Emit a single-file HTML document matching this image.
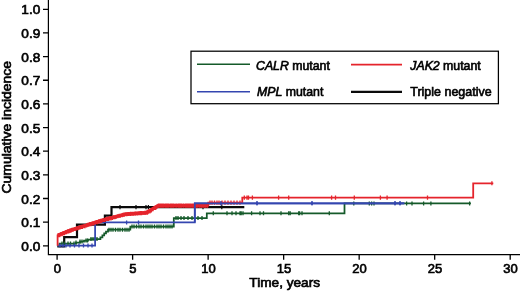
<!DOCTYPE html>
<html><head><meta charset="utf-8"><title>Cumulative incidence</title>
<style>html,body{margin:0;padding:0;background:#fff;overflow:hidden}svg{display:block;will-change:transform;transform:translateZ(0)}</style>
</head><body>
<svg width="520" height="291" viewBox="0 0 520 291">
<rect width="520" height="291" fill="#fff"/>
<path d="M48.40 0V254.60H520" stroke="#000" stroke-width="1.2" fill="none"/>
<path d="M43.00 245.80H48.40M43.00 222.15H48.40M43.00 198.50H48.40M43.00 174.85H48.40M43.00 151.20H48.40M43.00 127.55H48.40M43.00 103.90H48.40M43.00 80.25H48.40M43.00 56.60H48.40M43.00 32.95H48.40M43.00 9.30H48.40M57.10 254.60V259.80M132.62 254.60V259.80M208.13 254.60V259.80M283.65 254.60V259.80M359.17 254.60V259.80M434.68 254.60V259.80M510.20 254.60V259.80" stroke="#000" stroke-width="1.3" fill="none"/>
<text transform="translate(40.3,250.85) scale(1.050,1)" text-anchor="end" style='font-family:"Liberation Sans", Arial, Helvetica, sans-serif;font-size:13px;fill:#000;stroke:#000;stroke-width:0.65px'>0.0</text>
<text transform="translate(40.3,227.20) scale(1.050,1)" text-anchor="end" style='font-family:"Liberation Sans", Arial, Helvetica, sans-serif;font-size:13px;fill:#000;stroke:#000;stroke-width:0.65px'>0.1</text>
<text transform="translate(40.3,203.55) scale(1.050,1)" text-anchor="end" style='font-family:"Liberation Sans", Arial, Helvetica, sans-serif;font-size:13px;fill:#000;stroke:#000;stroke-width:0.65px'>0.2</text>
<text transform="translate(40.3,179.90) scale(1.050,1)" text-anchor="end" style='font-family:"Liberation Sans", Arial, Helvetica, sans-serif;font-size:13px;fill:#000;stroke:#000;stroke-width:0.65px'>0.3</text>
<text transform="translate(40.3,156.25) scale(1.050,1)" text-anchor="end" style='font-family:"Liberation Sans", Arial, Helvetica, sans-serif;font-size:13px;fill:#000;stroke:#000;stroke-width:0.65px'>0.4</text>
<text transform="translate(40.3,132.60) scale(1.050,1)" text-anchor="end" style='font-family:"Liberation Sans", Arial, Helvetica, sans-serif;font-size:13px;fill:#000;stroke:#000;stroke-width:0.65px'>0.5</text>
<text transform="translate(40.3,108.95) scale(1.050,1)" text-anchor="end" style='font-family:"Liberation Sans", Arial, Helvetica, sans-serif;font-size:13px;fill:#000;stroke:#000;stroke-width:0.65px'>0.6</text>
<text transform="translate(40.3,85.30) scale(1.050,1)" text-anchor="end" style='font-family:"Liberation Sans", Arial, Helvetica, sans-serif;font-size:13px;fill:#000;stroke:#000;stroke-width:0.65px'>0.7</text>
<text transform="translate(40.3,61.65) scale(1.050,1)" text-anchor="end" style='font-family:"Liberation Sans", Arial, Helvetica, sans-serif;font-size:13px;fill:#000;stroke:#000;stroke-width:0.65px'>0.8</text>
<text transform="translate(40.3,38.00) scale(1.050,1)" text-anchor="end" style='font-family:"Liberation Sans", Arial, Helvetica, sans-serif;font-size:13px;fill:#000;stroke:#000;stroke-width:0.65px'>0.9</text>
<text transform="translate(40.3,14.35) scale(1.050,1)" text-anchor="end" style='font-family:"Liberation Sans", Arial, Helvetica, sans-serif;font-size:13px;fill:#000;stroke:#000;stroke-width:0.65px'>1.0</text>
<text transform="translate(57.40,272.7) scale(1.0,1)" text-anchor="middle" style='font-family:"Liberation Sans", Arial, Helvetica, sans-serif;font-size:13px;fill:#000;stroke:#000;stroke-width:0.65px'>0</text>
<text transform="translate(132.92,272.7) scale(1.0,1)" text-anchor="middle" style='font-family:"Liberation Sans", Arial, Helvetica, sans-serif;font-size:13px;fill:#000;stroke:#000;stroke-width:0.65px'>5</text>
<text transform="translate(208.43,272.7) scale(1.0,1)" text-anchor="middle" style='font-family:"Liberation Sans", Arial, Helvetica, sans-serif;font-size:13px;fill:#000;stroke:#000;stroke-width:0.65px'>10</text>
<text transform="translate(283.95,272.7) scale(1.0,1)" text-anchor="middle" style='font-family:"Liberation Sans", Arial, Helvetica, sans-serif;font-size:13px;fill:#000;stroke:#000;stroke-width:0.65px'>15</text>
<text transform="translate(359.47,272.7) scale(1.0,1)" text-anchor="middle" style='font-family:"Liberation Sans", Arial, Helvetica, sans-serif;font-size:13px;fill:#000;stroke:#000;stroke-width:0.65px'>20</text>
<text transform="translate(434.98,272.7) scale(1.0,1)" text-anchor="middle" style='font-family:"Liberation Sans", Arial, Helvetica, sans-serif;font-size:13px;fill:#000;stroke:#000;stroke-width:0.65px'>25</text>
<text transform="translate(510.50,272.7) scale(1.0,1)" text-anchor="middle" style='font-family:"Liberation Sans", Arial, Helvetica, sans-serif;font-size:13px;fill:#000;stroke:#000;stroke-width:0.65px'>30</text>
<text transform="translate(284.7,287.4) scale(1.05,1)" text-anchor="middle" style='font-family:"Liberation Sans", Arial, Helvetica, sans-serif;font-size:13px;fill:#000;stroke:#000;stroke-width:0.65px'>Time, years</text>
<text transform="translate(10.5,127.25) rotate(-90) scale(1.072,1)" text-anchor="middle" style='font-family:"Liberation Sans", Arial, Helvetica, sans-serif;font-size:13px;fill:#000;stroke:#000;stroke-width:0.65px'>Cumulative incidence</text>
<path d="M57.30 246.30 H64.20 V237.10 H77.00 V224.60 H104.90 V215.70 H111.50 V207.10 H244.30" stroke="#0a0a0a" stroke-width="2.20" fill="none" stroke-linejoin="miter"/>
<path d="M120.00 204.90V209.30M136.00 204.90V209.30M146.00 204.90V209.30M148.40 204.90V209.30M203.00 204.90V209.30M221.80 204.90V209.30" stroke="#0a0a0a" stroke-width="1.20" fill="none"/>
<path d="M57.30 245.60 H59.50 V243.50 H76.00 V242.60 H80.00 V241.60 H84.00 V240.60 H88.00 V239.60 H91.00 V239.10 H100.40 V237.30 H102.40 V235.30 H104.20 V233.30 H106.00 V231.50 H108.00 V229.70 H130.30 V226.60 H173.80 V218.10 H206.80 V213.30 H344.50 V203.40 H470.90" stroke="#155a2a" stroke-width="1.75" fill="none" stroke-linejoin="miter"/>
<path d="M62.00 241.50V245.50M64.50 241.50V245.50M68.00 241.50V245.50M70.50 241.50V245.50M74.00 241.50V245.50M76.00 240.60V244.60M80.00 239.60V243.60M82.00 239.60V243.60M86.00 238.60V242.60M87.50 238.60V242.60M91.00 237.10V241.10M93.00 237.10V241.10M95.00 237.10V241.10M97.00 237.10V241.10M109.00 227.70V231.70M111.00 227.70V231.70M113.00 227.70V231.70M115.50 227.70V231.70M118.00 227.70V231.70M120.00 227.70V231.70M122.50 227.70V231.70M125.00 227.70V231.70M127.00 227.70V231.70M129.00 227.70V231.70M132.00 224.60V228.60M134.00 224.60V228.60M136.50 224.60V228.60M139.00 224.60V228.60M141.00 224.60V228.60M143.50 224.60V228.60M146.00 224.60V228.60M148.00 224.60V228.60M150.00 224.60V228.60M152.00 224.60V228.60M154.50 224.60V228.60M157.00 224.60V228.60M159.00 224.60V228.60M161.00 224.60V228.60M163.50 224.60V228.60M166.00 224.60V228.60M168.00 224.60V228.60M170.00 224.60V228.60M172.00 224.60V228.60M176.00 216.10V220.10M178.00 216.10V220.10M181.00 216.10V220.10M184.00 216.10V220.10M188.00 216.10V220.10M192.00 216.10V220.10M198.00 216.10V220.10M202.00 216.10V220.10M213.30 211.30V215.30M227.00 211.30V215.30M232.00 211.30V215.30M236.00 211.30V215.30M240.00 211.30V215.30M241.20 211.30V215.30M243.00 211.30V215.30M251.60 211.30V215.30M260.00 211.30V215.30M263.50 211.30V215.30M281.00 211.30V215.30M288.70 211.30V215.30M290.20 211.30V215.30M298.70 211.30V215.30M299.60 211.30V215.30M302.00 211.30V215.30M329.30 211.30V215.30M353.80 201.40V205.40M369.30 201.40V205.40M371.60 201.40V205.40M374.00 201.40V205.40M406.60 201.40V205.40M412.00 201.40V205.40M423.60 201.40V205.40M430.90 201.40V205.40M469.60 201.40V205.40" stroke="#155a2a" stroke-width="1.30" fill="none"/>
<path d="M57.30 245.60 H95.10 V222.40 H194.80 V203.30 H404.30" stroke="#3446b0" stroke-width="1.75" fill="none" stroke-linejoin="miter"/>
<path d="M60.00 243.60V247.60M63.00 243.60V247.60M66.00 243.60V247.60M70.00 243.60V247.60M74.50 243.60V247.60M79.00 243.60V247.60M83.50 243.60V247.60M88.00 243.60V247.60M92.00 243.60V247.60M126.60 220.40V224.40M138.50 220.40V224.40M221.00 201.30V205.30M257.00 201.30V205.30M312.00 201.30V205.30M395.00 201.30V205.30M400.00 201.30V205.30" stroke="#3446b0" stroke-width="1.30" fill="none"/>
<path d="M57.60 235.30 L60.07 234.27 L62.53 233.23 L65.00 232.20 L67.25 231.40 L69.50 230.60 L71.75 229.80 L74.00 229.00 L76.23 228.30 L78.46 227.60 L80.69 226.90 L82.91 226.20 L85.14 225.50 L87.37 224.80 L89.60 224.10 L91.80 223.43 L94.00 222.76 L96.20 222.09 L98.40 221.41 L100.60 220.74 L102.80 220.07 L105.00 219.40 L107.00 218.88 L109.00 218.36 L111.00 217.84 L113.00 217.32 L115.00 216.80 L117.00 216.28 L119.00 215.76 L121.00 215.24 L123.00 214.72 L125.00 214.20 L127.10 214.05 L129.20 213.90 L131.30 213.75 L133.40 213.60 L135.50 213.45 L137.60 213.30 L139.70 213.15 L141.80 213.00 L143.90 212.85 L146.00 212.70 L148.00 211.52 L150.00 210.33 L152.00 209.15 L154.00 207.97 L156.00 206.78 L158.00 205.60 H208" stroke="#e5242c" stroke-width="3.3" fill="none" stroke-linejoin="round"/>
<path d="M57.60 245.80 V235.30 H60.07 V234.27 H62.53 V233.23 H65.00 V232.20 H67.25 V231.40 H69.50 V230.60 H71.75 V229.80 H74.00 V229.00 H76.23 V228.30 H78.46 V227.60 H80.69 V226.90 H82.91 V226.20 H85.14 V225.50 H87.37 V224.80 H89.60 V224.10 H91.80 V223.43 H94.00 V222.76 H96.20 V222.09 H98.40 V221.41 H100.60 V220.74 H102.80 V220.07 H105.00 V219.40 H107.00 V218.88 H109.00 V218.36 H111.00 V217.84 H113.00 V217.32 H115.00 V216.80 H117.00 V216.28 H119.00 V215.76 H121.00 V215.24 H123.00 V214.72 H125.00 V214.20 H127.10 V214.05 H129.20 V213.90 H131.30 V213.75 H133.40 V213.60 H135.50 V213.45 H137.60 V213.30 H139.70 V213.15 H141.80 V213.00 H143.90 V212.85 H146.00 V212.70 H148.00 V211.52 H150.00 V210.33 H152.00 V209.15 H154.00 V207.97 H156.00 V206.78 H158.00 V205.60 H208.30 V202.60 H242.30 V197.60 H473.20 V183.30 H493.30" stroke="#e5242c" stroke-width="1.80" fill="none" stroke-linejoin="miter"/>
<path d="M58.50 233.25V237.35M59.66 233.25V237.35M60.68 232.22V236.32M62.10 232.22V236.32M63.06 231.18V235.28M64.39 231.18V235.28M65.58 230.15V234.25M66.53 230.15V234.25M67.83 229.35V233.45M68.76 229.35V233.45M70.01 228.55V232.65M70.96 228.55V232.65M71.94 227.75V231.85M73.18 227.75V231.85M74.74 226.95V231.05M75.74 226.95V231.05M76.82 226.25V230.35M78.22 226.25V230.35M79.88 225.55V229.65M81.24 224.85V228.95M82.46 224.85V228.95M84.14 224.15V228.25M85.07 224.15V228.25M86.66 223.45V227.55M87.79 222.75V226.85M88.81 222.75V226.85M89.80 222.05V226.15M90.95 222.05V226.15M92.50 221.38V225.48M93.55 221.38V225.48M94.91 220.71V224.81M96.32 220.04V224.14M97.52 220.04V224.14M98.86 219.36V223.46M99.81 219.36V223.46M100.76 218.69V222.79M101.82 218.69V222.79M103.27 218.02V222.12M104.51 218.02V222.12M105.66 217.35V221.45M107.03 216.83V220.93M108.29 216.83V220.93M109.43 216.31V220.41M110.97 216.31V220.41M112.42 215.79V219.89M113.52 215.27V219.37M114.88 215.27V219.37M116.20 214.75V218.85M117.80 214.23V218.33M119.28 213.71V217.81M120.41 213.71V217.81M122.10 213.19V217.29M123.09 212.67V216.77M124.33 212.67V216.77M125.83 212.15V216.25M126.85 212.15V216.25M128.14 212.00V216.10M129.08 212.00V216.10M130.51 211.85V215.95M132.02 211.70V215.80M133.38 211.70V215.80M134.98 211.55V215.65M136.13 211.40V215.50M137.59 211.40V215.50M138.96 211.25V215.35M140.33 211.10V215.20M141.59 211.10V215.20M143.16 210.95V215.05M144.82 210.80V214.90M146.10 210.65V214.75M147.53 210.65V214.75M148.48 209.47V213.57M149.94 209.47V213.57M151.36 208.28V212.38M153.05 207.10V211.20M154.61 205.92V210.02M155.74 205.92V210.02M156.95 204.73V208.83M158.38 203.55V207.65M159.30 203.55V207.65M160.57 203.55V207.65M161.60 203.55V207.65M162.60 203.55V207.65M163.54 203.55V207.65M165.06 203.55V207.65M166.06 203.55V207.65M167.16 203.55V207.65M168.37 203.55V207.65M169.97 203.55V207.65M170.94 203.55V207.65M172.19 203.55V207.65M173.53 203.55V207.65M175.14 203.55V207.65M176.70 203.55V207.65M178.29 203.55V207.65M179.41 203.55V207.65M180.64 203.55V207.65M181.83 203.55V207.65M183.44 203.55V207.65M185.10 203.55V207.65M186.12 203.55V207.65M187.16 203.55V207.65M188.25 203.55V207.65M189.34 203.55V207.65M190.62 203.55V207.65M192.00 203.55V207.65M193.11 203.55V207.65M194.01 203.55V207.65M195.24 203.55V207.65M196.44 203.55V207.65M197.79 203.55V207.65M199.46 203.55V207.65M200.91 203.55V207.65M202.22 203.55V207.65M203.61 203.55V207.65M205.06 203.55V207.65M206.00 203.55V207.65M207.62 203.55V207.65M210.00 200.55V204.65M212.00 200.55V204.65M214.50 200.55V204.65M217.00 200.55V204.65M219.00 200.55V204.65M222.00 200.55V204.65M225.00 200.55V204.65M228.00 200.55V204.65M231.00 200.55V204.65M234.00 200.55V204.65M237.00 200.55V204.65M240.00 200.55V204.65M244.30 195.55V199.65M247.00 195.55V199.65M248.50 195.55V199.65M252.40 195.55V199.65M278.60 195.55V199.65M288.70 195.55V199.65M331.60 195.55V199.65M335.50 195.55V199.65M354.30 195.55V199.65M380.40 195.55V199.65M387.10 195.55V199.65M427.50 195.55V199.65M491.90 181.25V185.35" stroke="#e5242c" stroke-width="1.30" fill="none"/>
<path d="M194.80 222.40 V203.30 H404.30" stroke="#3446b0" stroke-width="1.75" fill="none" stroke-linejoin="miter"/>
<path d="M221.00 201.30V205.30M257.00 201.30V205.30M312.00 201.30V205.30M395.00 201.30V205.30M400.00 201.30V205.30" stroke="#3446b0" stroke-width="1.30" fill="none"/>
<rect x="191" y="51.2" width="307.4" height="52.5" fill="#fff" stroke="#000" stroke-width="1.25"/>
<path d="M197 64.3H250" stroke="#155a2a" stroke-width="1.6"/>
<path d="M197 91.8H250" stroke="#3446b0" stroke-width="1.6"/>
<path d="M351 64.6H402" stroke="#e5242c" stroke-width="1.6"/>
<path d="M351 91.9H402" stroke="#0a0a0a" stroke-width="2.2"/>
<text x="256" y="69.5" style='font-family:"Liberation Sans", Arial, Helvetica, sans-serif;font-size:12.3px;fill:#000;stroke:#000;stroke-width:0.62px'><tspan font-style="italic">CALR</tspan> mutant</text>
<text x="257" y="95.8" style='font-family:"Liberation Sans", Arial, Helvetica, sans-serif;font-size:12.3px;fill:#000;stroke:#000;stroke-width:0.62px'><tspan font-style="italic">MPL</tspan> mutant</text>
<text x="410.3" y="69.5" style='font-family:"Liberation Sans", Arial, Helvetica, sans-serif;font-size:12.3px;fill:#000;stroke:#000;stroke-width:0.62px'><tspan font-style="italic">JAK2</tspan> mutant</text>
<text transform="translate(410.3,95.6) scale(1.014,1)" style='font-family:"Liberation Sans", Arial, Helvetica, sans-serif;font-size:12.3px;fill:#000;stroke:#000;stroke-width:0.62px'>Triple negative</text>
</svg>
</body></html>
